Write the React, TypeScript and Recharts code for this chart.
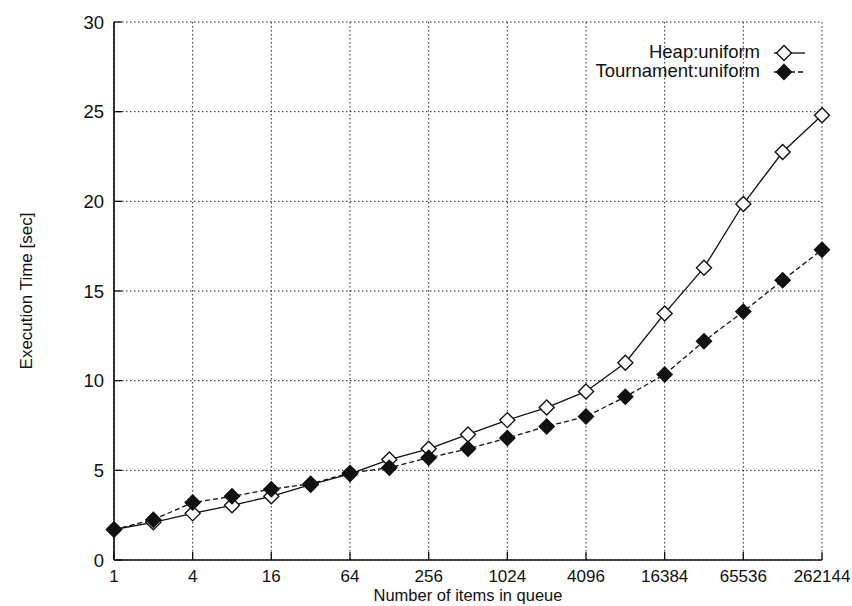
import React from 'react';
import { LineChart, Line, XAxis, YAxis, CartesianGrid } from 'recharts';

const items = [1, 2, 4, 8, 16, 32, 64, 128, 256, 512, 1024, 2048, 4096, 8192, 16384, 32768, 65536, 131072, 262144];
const heapUniform = [1.7, 2.1, 2.6, 3.05, 3.55, 4.2, 4.8, 5.6, 6.2, 7.0, 7.8, 8.5, 9.4, 11.0, 13.75, 16.3, 19.85, 22.75, 24.8];
const tournamentUniform = [1.7, 2.25, 3.2, 3.55, 3.95, 4.25, 4.85, 5.15, 5.7, 6.2, 6.8, 7.45, 8.0, 9.1, 10.35, 12.2, 13.85, 15.6, 17.3];
const xTicks = [1, 4, 16, 64, 256, 1024, 4096, 16384, 65536, 262144];
const yTicks = [0, 5, 10, 15, 20, 25, 30];

const data = items.map((n, i) => ({ n, heap: heapUniform[i], tour: tournamentUniform[i] }));

const FONT = '"Liberation Sans", Arial, sans-serif';
const FS = 17;
const frame = { stroke: '#111', strokeWidth: 1.7 };
const tickLn = { stroke: '#111', strokeWidth: 1.3 };
const hiddenLabel = { fill: 'none', fontSize: 1 };

const Diamond = ({ cx, cy, filled }: { cx?: number; cy?: number; filled: boolean }) => {
  if (cx == null || cy == null) return null;
  const r = 7.5;
  return (
    <polygon
      points={`${cx},${cy - r} ${cx + r},${cy} ${cx},${cy + r} ${cx - r},${cy}`}
      fill={filled ? '#111' : '#fff'}
      stroke="#111"
      strokeWidth={1.4}
    />
  );
};

// legend drawn by hand, gnuplot style (text, then marker on a short line)
const LegendBox = () => {
  const rows = [
    { label: 'Heap:uniform', filled: false, dash: undefined },
    { label: 'Tournament:uniform', filled: true, dash: '5 3' },
  ];
  return (
    <div style={{ position: 'absolute', top: 43, left: 500, width: 306, fontFamily: FONT, fontSize: 18.5, color: '#111', lineHeight: 1 }}>
      {rows.map((r) => (
        <div key={r.label} style={{ display: 'flex', alignItems: 'center', justifyContent: 'flex-end', height: 19 }}>
          <span style={{ marginRight: 8 }}>{r.label}</span>
          <svg width={38} height={18}>
            <line x1={6} y1={9} x2={37} y2={9} stroke="#111" strokeWidth={1.3} strokeDasharray={r.dash} />
            <Diamond cx={16} cy={9} filled={r.filled} />
          </svg>
        </div>
      ))}
    </div>
  );
};

export default function App() {
  return (
    <div style={{ position: 'absolute', left: 0, top: 0, width: 852, height: 606, background: '#fff' }}>
      <LineChart width={852} height={606} data={data} margin={{ top: 22, right: 30, bottom: 14, left: 54 }}>
        <CartesianGrid stroke="#222" strokeDasharray="1.5 2.5" strokeWidth={1} />
        {/* negative tickSize: tick marks point into the plot, gnuplot style */}
        <XAxis
          dataKey="n"
          type="number"
          scale="log"
          domain={[1, 262144]}
          ticks={xTicks}
          interval={0}
          tickSize={-8}
          tickMargin={18}
          height={32}
          axisLine={frame}
          tickLine={tickLn}
          tick={{ fill: '#111', fontSize: FS, fontFamily: FONT }}
          label={{ value: 'Number of items in queue', position: 'bottom', offset: -3, fill: '#111', fontSize: 16.5, fontFamily: FONT }}
        />
        <XAxis xAxisId="top" orientation="top" dataKey="n" type="number" scale="log" domain={[1, 262144]} ticks={xTicks} interval={0} tick={hiddenLabel} tickSize={-8} tickMargin={0} height={0} axisLine={frame} tickLine={tickLn} />
        <YAxis
          domain={[0, 30]}
          ticks={yTicks}
          interval={0}
          tickSize={-8}
          tickMargin={18}
          width={60}
          axisLine={frame}
          tickLine={tickLn}
          tick={{ fill: '#111', fontSize: 18.5, fontFamily: FONT }}
          label={{ value: 'Execution Time [sec]', angle: -90, position: 'insideLeft', offset: -28, fill: '#111', fontSize: FS, fontFamily: FONT, style: { textAnchor: 'middle' } }}
        />
        <YAxis yAxisId="right" orientation="right" domain={[0, 30]} ticks={yTicks} interval={0} tick={hiddenLabel} tickSize={-8} tickMargin={0} width={0} axisLine={frame} tickLine={tickLn} />
        <Line
          dataKey="heap"
          stroke="#111"
          strokeWidth={1.3}
          isAnimationActive={false}
          dot={(p: any) => <Diamond key={p.index} cx={p.cx} cy={p.cy} filled={false} />}
        />
        <Line
          dataKey="tour"
          stroke="#111"
          strokeWidth={1.3}
          strokeDasharray="5 3"
          isAnimationActive={false}
          dot={(p: any) => <Diamond key={p.index} cx={p.cx} cy={p.cy} filled />}
        />
      </LineChart>
      <LegendBox />
    </div>
  );
}
